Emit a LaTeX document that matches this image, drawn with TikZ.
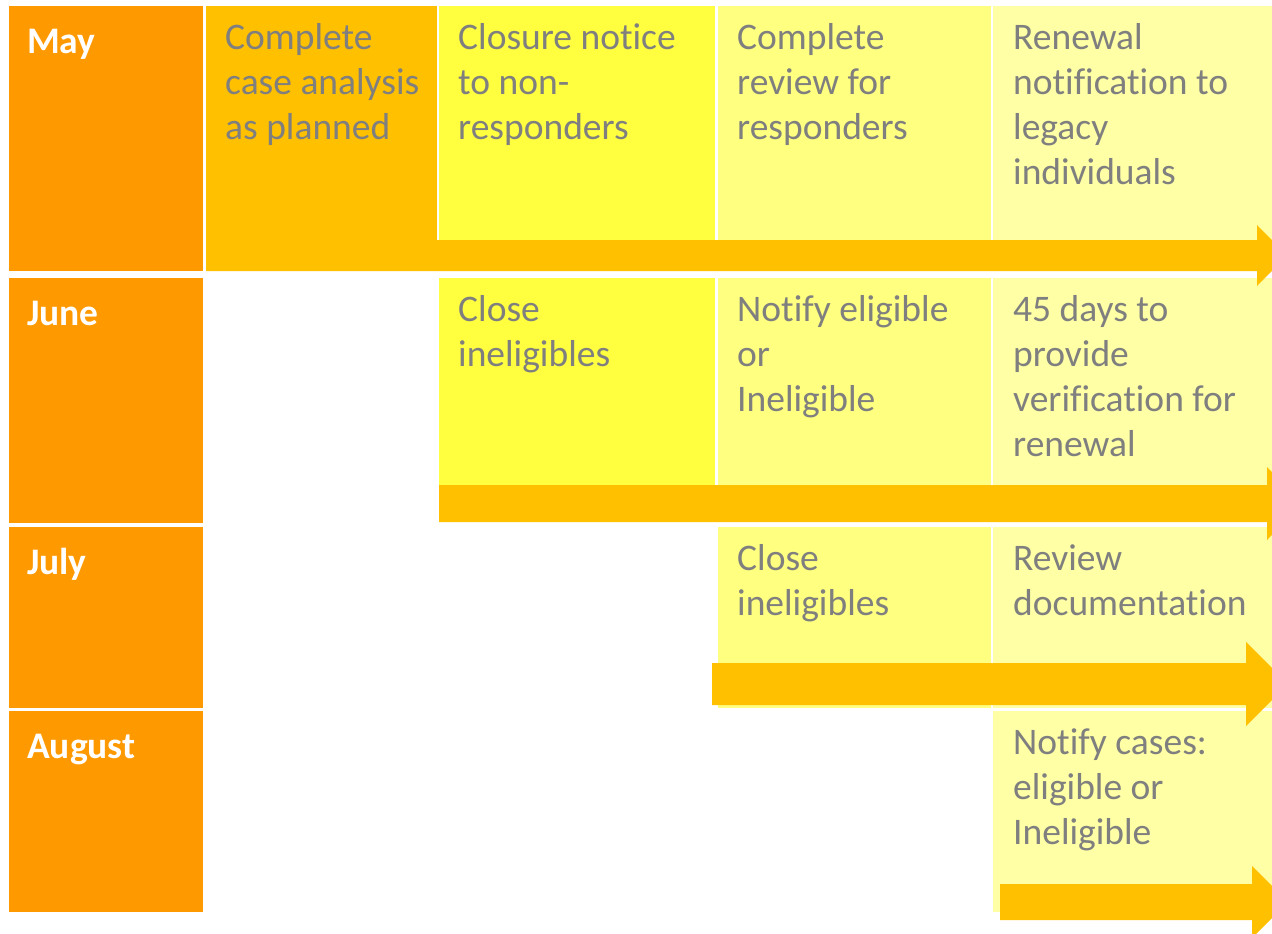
\documentclass[tikz,border=0pt]{standalone}
\usepackage{fontspec}
\setmainfont{Carlito}[Ligatures=NoCommon]
\usetikzlibrary{positioning}
\definecolor{monthorange}{HTML}{FF9900}
\definecolor{amber}{HTML}{FFC000}
\definecolor{yellowA}{HTML}{FFFF40}
\definecolor{yellowB}{HTML}{FFFF80}
\definecolor{yellowC}{HTML}{FFFFA6}
\definecolor{textgrey}{HTML}{7F7F7F}

\begin{document}
\begin{tikzpicture}[x=1pt,y=-1pt]

\tikzset{month/.style={anchor=north west,inner sep=0pt,text=white,font=\bfseries\fontsize{37.5}{45}\selectfont,execute at begin node=\rule{0pt}{30pt}},
task/.style={anchor=north west,inner sep=0pt,align=left,text=textgrey,font=\fontsize{37.5}{45}\selectfont,execute at begin node=\rule{0pt}{30pt}},
band/.style={fill=amber}}

\fill[white] (0,0) rectangle (1272,934);
\clip (0,0) rectangle (1272,934);

% Month column
\foreach \name/\lab/\yt/\yb in {may/May/6/271, june/June/278/523, july/July/527/708, aug/August/711/912} {
  \fill[monthorange] (9,\yt) rectangle (203,\yb);
  \node[month] (\name) at (27,\yt+17) {\lab};
}

% Boxes, row by row
\fill[amber] (206,6) rectangle (437,271);
\fill[yellowA] (439,6) rectangle (715,271);
\fill[yellowB] (718,6) rectangle (991,271);
\fill[yellowC] (993,6) rectangle (1272,271);

\fill[yellowA] (439,278) rectangle (715,522);
\fill[yellowB] (718,278) rectangle (991,522);
\fill[yellowC] (993,278) rectangle (1272,522);

\fill[yellowB] (718,527) rectangle (991,708);
\fill[yellowC] (993,527) rectangle (1272,708);

\fill[yellowC] (993,711) rectangle (1272,912);

% Arrows
\fill[band] (206,240) -- (1257,240) -- (1257,225) -- (1287,255.5) -- (1257,286) -- (1257,271) -- (206,271) -- cycle;
\fill[band] (439,485) -- (1267,485) -- (1267,467) -- (1303,503.5) -- (1267,540) -- (1267,522) -- (439,522) -- cycle;
\fill[band] (712,663) -- (1246,663) -- (1246,642) -- (1288,684) -- (1246,726) -- (1246,705) -- (712,705) -- cycle;
\fill[band] (1000,884) -- (1252,884) -- (1252,866) -- (1288,902) -- (1252,938) -- (1252,920) -- (1000,920) -- cycle;

% May
\node[task] (may1) at (225,23) {Complete\\case analysis\\as planned};
\node[task] (may2) at (458,23) {Closure notice\\to non-\\responders};
\node[task] (may3) at (737,23) {Complete\\review for\\responders};
\node[task] (may4) at (1013,23) {Renewal\\notification to\\legacy\\individuals};

% June
\node[task] (june2) at (458,295) {Close\\ineligibles};
\node[task] (june3) at (737,295) {Notify eligible\\or\\Ineligible};
\node[task] (june4) at (1013,295) {45 days to\\provide\\verification for\\renewal};

% July
\node[task] (july3) at (737,544) {Close\\ineligibles};
\node[task] (july4) at (1013,544) {Review\\documentation};

% August
\node[task] (aug4) at (1013,728) {Notify cases:\\eligible or\\Ineligible};

\end{tikzpicture}
\end{document}
